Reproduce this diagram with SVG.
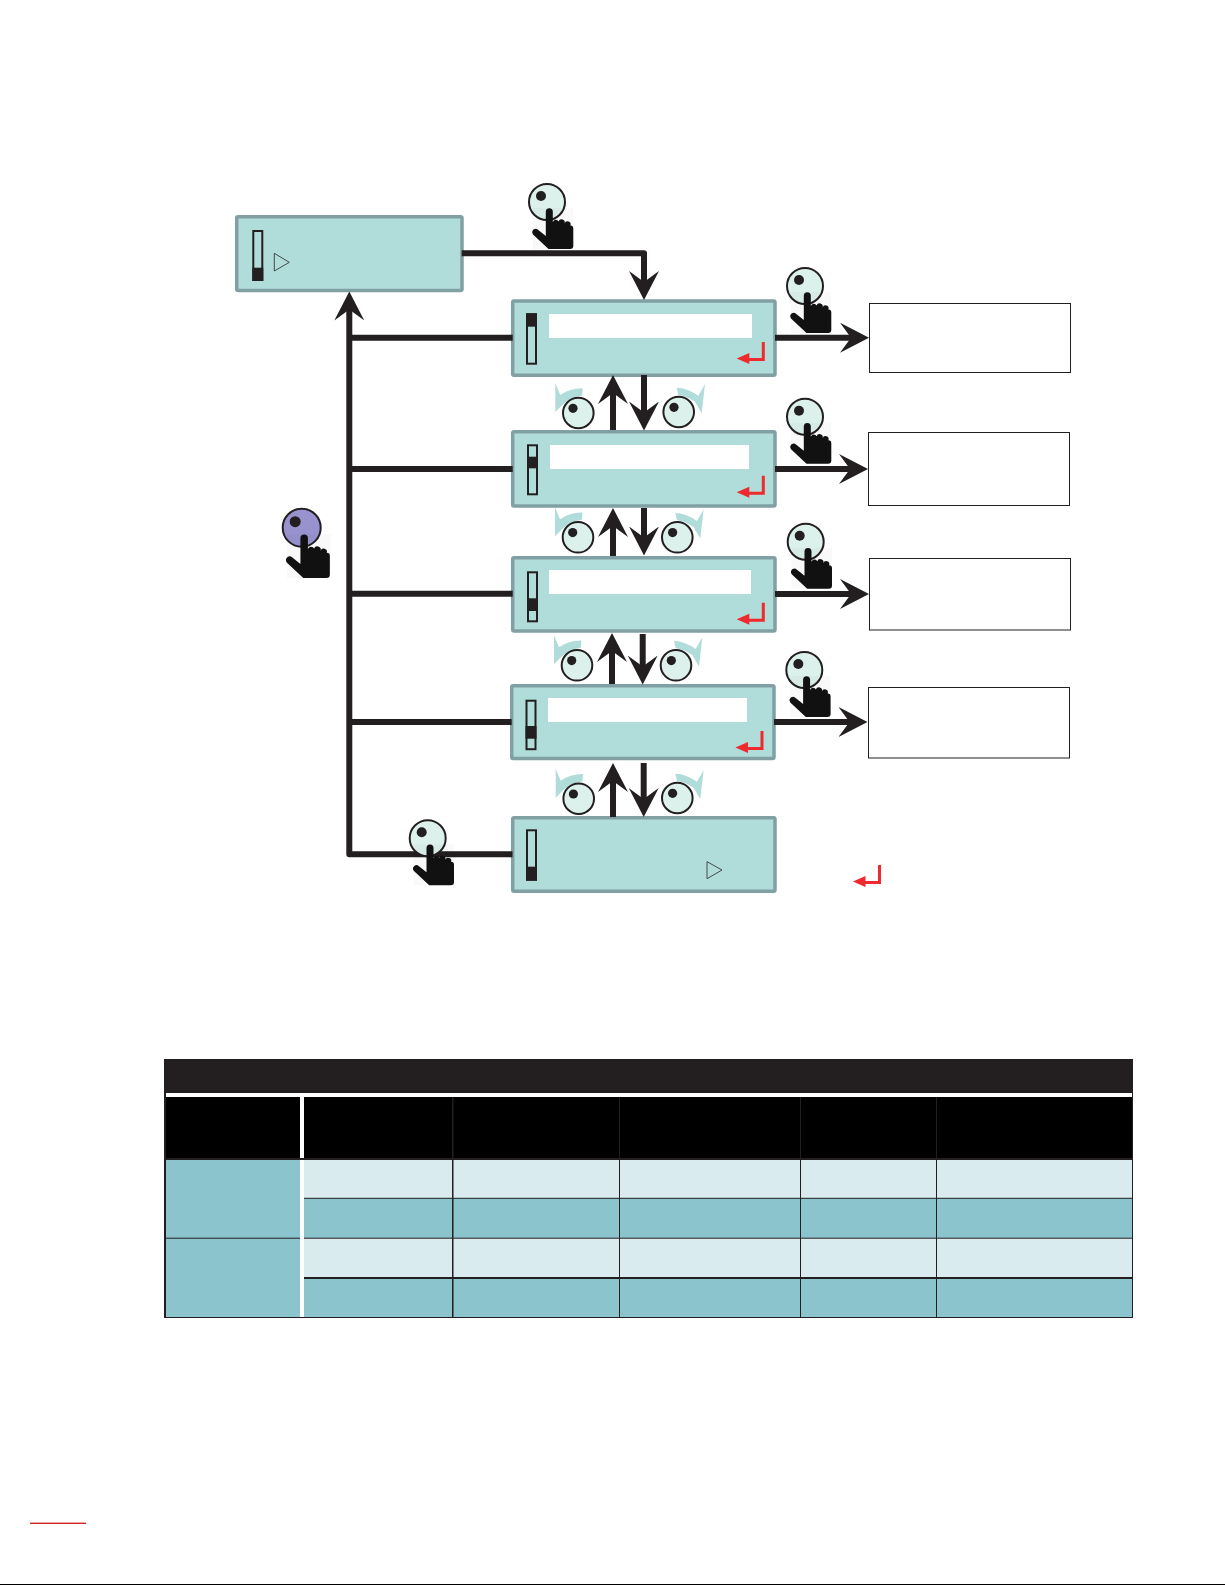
<svg xmlns="http://www.w3.org/2000/svg" xmlns:xlink="http://www.w3.org/1999/xlink" width="1225" height="1585" viewBox="0 0 1225 1585">
<style>
.box{fill:#b0dcd9;stroke:#80a0a4;stroke-width:3.5}
.bar{fill:#fff}
.sb{fill:#b0dcd9;stroke:#231f20;stroke-width:2}
.sf{fill:#231f20}
.tri{fill:none;stroke:#3a3a3a;stroke-width:.9}
.ret{fill:none;stroke:#ee2a2e;stroke-width:3}
.reth{fill:#ee2a2e}
.out{fill:#fff;stroke:#231f20;stroke-width:1}
.con{fill:none;stroke:#231f20;stroke-width:6;stroke-linejoin:round}
.arr{marker-end:url(#head)}
.knob{fill:#dcf1ec;stroke:#231f20;stroke-width:2}
.dot{fill:#231f20}
.curl{fill:#b0dcd9}
.hand{fill:#111}
.lt{fill:#d9ebef}
.dk{fill:#8bc4cd}
.ln{fill:#231f20}
</style>
<defs>
<marker id="head" markerUnits="userSpaceOnUse" markerWidth="30" markerHeight="30" refX="15" refY="15" orient="auto" viewBox="0 0 30 30">
<path d="M0,0 L29,15 L0,30 L11,15 Z" fill="#231f20"/>
</marker>
<path id="hand-shape" class="hand" d="M-1.2,9.8 A3.5,3.5 0 0 1 5.8,9.8 V20 A3.1,3.1 0 0 1 11.6,19.5 A3.1,3.1 0 0 1 17.6,21.5 A3,3 0 0 1 23.4,23.5 Q26.3,23.5 26.3,26.5 V44 Q26.3,47 23,47 H1.5 L-14,32.5 Q-15.8,29.8 -13.5,27.6 Q-11,25.8 -9,27.7 L-1.2,34 Z"/>
<g id="press">
<circle class="knob" r="18"/>
<circle class="dot" cx="-6" cy="-6" r="5"/>
<rect x="-14.3" y="6" width="40.6" height="41" fill="#000" opacity=".025"/>
<use xlink:href="#hand-shape" href="#hand-shape"/>
</g>
<g id="press-purple">
<circle class="knob" style="fill:#9893cf" r="19"/>
<circle class="dot" cx="-6.5" cy="-6" r="5.5"/>
<rect x="-15" y="6.5" width="44" height="44" fill="#000" opacity=".025"/>
<use xlink:href="#hand-shape" href="#hand-shape" transform="scale(1.07)"/>
</g>
<g id="dial-l">
<path class="curl" d="M-23,-30 L-18,-18 Q-8,-25 4.5,-24.7 L3.7,-17.3 Q-6,-17 -15,-9 L-23,-1 Z"/>
<circle class="knob" r="15.3"/>
<circle class="dot" cx="-5.3" cy="-4.7" r="4.6"/>
</g>
<g id="dial-r">
<path class="curl" d="M26.3,-28 L19.7,-16.3 Q9,-24 -2,-24.3 L-0.3,-17 Q8,-16 16.3,-10.3 L23,1.3 Z"/>
<circle class="knob" r="15.3"/>
<circle class="dot" cx="-4.7" cy="-4.7" r="4.6"/>
</g>
<g id="ret">
<path class="ret" d="M0,0 V17.5 H-18"/>
<path class="reth" d="M-26.6,16.5 L-14,11 V22 Z"/>
</g>
</defs>
<rect width="1225" height="1585" fill="#fff"/>

<g id="node-0">
<rect class="box" x="236.7" y="216.7" width="225.3" height="73.8" rx="1.5"/>
<rect class="sb" x="253.3" y="231" width="9" height="49"/>
<rect class="sf" x="252.3" y="267.7" width="11" height="13.3"/>
<path class="tri" d="M274.3,253.3 L289.3,262.3 L274.3,271 Z"/>
</g>
<g id="node-1">
<rect class="box" x="512.7" y="301" width="262.3" height="74.3" rx="1.5"/>
<rect class="bar" x="549" y="314" width="203" height="24"/>
<rect class="sb" x="527" y="314.3" width="9" height="49.4"/>
<rect class="sf" x="526" y="313.3" width="11" height="13.4"/>
<use xlink:href="#ret" href="#ret" x="763.3" y="342"/>
</g>
<g id="node-2">
<rect class="box" x="512.7" y="431.7" width="262.3" height="74.3" rx="1.5"/>
<rect class="bar" x="550" y="445" width="199" height="24"/>
<rect class="sb" x="528" y="445.3" width="9" height="49"/>
<rect class="sf" x="527" y="456.7" width="11" height="11.6"/>
<use xlink:href="#ret" href="#ret" x="763.3" y="475.7"/>
</g>
<g id="node-3">
<rect class="box" x="512.7" y="557.7" width="262.3" height="73.3" rx="1.5"/>
<rect class="bar" x="549" y="570" width="202" height="24"/>
<rect class="sb" x="528" y="572.3" width="9" height="49"/>
<rect class="sf" x="527" y="598.3" width="11" height="12.7"/>
<use xlink:href="#ret" href="#ret" x="763.3" y="602.7"/>
</g>
<g id="node-4">
<rect class="box" x="511.7" y="685.7" width="262.3" height="72.9" rx="1.5"/>
<rect class="bar" x="548" y="698" width="199" height="24"/>
<rect class="sb" x="526.5" y="700.7" width="9" height="48.5"/>
<rect class="sf" x="525.5" y="726" width="11" height="12.7"/>
<use xlink:href="#ret" href="#ret" x="762" y="731"/>
</g>
<g id="node-5">
<rect class="box" x="512.7" y="817.7" width="262.3" height="73.6" rx="1.5"/>
<rect class="sb" x="527" y="830.3" width="9" height="49.4"/>
<rect class="sf" x="526" y="866.7" width="11" height="14"/>
<path class="tri" d="M707,861.7 L722,870 L707,878.7 Z"/>
</g>
<g id="legend-return"><use xlink:href="#ret" href="#ret" x="879.5" y="865"/></g>

<g id="result-1"><rect class="out" x="869.5" y="303.5" width="201" height="69"/></g>
<g id="result-2"><rect class="out" x="868.5" y="432.5" width="201" height="73"/></g>
<g id="result-3"><rect class="out" x="869.5" y="558.5" width="201" height="71.5"/></g>
<g id="result-4"><rect class="out" x="868.5" y="687.5" width="201" height="70.5"/></g>

<g id="connectors">
<path class="con arr" d="M461.7,253.3 H644 V286"/>
<path class="con arr" d="M512.5,854.3 H349.3 V305.5"/>
<path class="con" d="M349.3,337.7 H512.7"/>
<path class="con" d="M349.3,469 H512.7"/>
<path class="con" d="M349.3,593.7 H512.7"/>
<path class="con" d="M349.3,722 H511.7"/>
<path class="con arr" d="M775,337.7 H855"/>
<path class="con arr" d="M775,469 H854"/>
<path class="con arr" d="M775,594 H855"/>
<path class="con arr" d="M774,722 H853.5"/>
<path class="con arr" d="M613,430 V389"/>
<path class="con arr" d="M644,375 V416.5"/>
<path class="con arr" d="M613,556 V522"/>
<path class="con arr" d="M644,508 V541.5"/>
<path class="con arr" d="M612,684 V647"/>
<path class="con arr" d="M642.7,634 V670.5"/>
<path class="con arr" d="M613,817 V777"/>
<path class="con arr" d="M643.7,763 V803"/>
</g>

<g id="press-icons">
<use xlink:href="#press" href="#press" x="547" y="202"/>
<use xlink:href="#press" href="#press" x="805" y="286"/>
<use xlink:href="#press" href="#press" x="805" y="416.7"/>
<use xlink:href="#press" href="#press" x="805.7" y="541.7"/>
<use xlink:href="#press" href="#press" x="804.3" y="670"/>
<use xlink:href="#press" href="#press" x="427.7" y="838.3"/>
<use xlink:href="#press-purple" href="#press-purple" x="301.7" y="527.7"/>
</g>
<g id="dial-icons">
<use xlink:href="#dial-l" href="#dial-l" x="578.3" y="413"/>
<use xlink:href="#dial-r" href="#dial-r" x="678.7" y="412"/>
<use xlink:href="#dial-l" href="#dial-l" x="578" y="537.3"/>
<use xlink:href="#dial-r" href="#dial-r" x="677.3" y="537.3"/>
<use xlink:href="#dial-l" href="#dial-l" x="577" y="665.3"/>
<use xlink:href="#dial-r" href="#dial-r" x="676" y="665.3"/>
<use xlink:href="#dial-l" href="#dial-l" x="578.7" y="798.7"/>
<use xlink:href="#dial-r" href="#dial-r" x="677.3" y="798"/>
</g>

<g id="table">
<rect x="164" y="1059" width="969" height="34" fill="#231f20"/>
<rect x="164" y="1093" width="2" height="225" fill="#231f20"/>
<rect x="1132" y="1093" width="1" height="225" fill="#231f20"/>
<rect x="166" y="1097" width="966" height="61" fill="#000"/>
<rect class="dk" x="166" y="1159" width="134" height="158"/>
<rect class="lt" x="304" y="1159" width="828" height="39"/>
<rect class="dk" x="304" y="1198" width="828" height="40"/>
<rect class="lt" x="304" y="1238" width="828" height="40"/>
<rect class="dk" x="304" y="1278" width="828" height="39"/>
<rect x="300" y="1097" width="4" height="220" fill="#fff"/>
<rect class="ln" x="164" y="1158" width="969" height="2"/>
<rect class="ln" x="304" y="1197.8" width="829" height="1"/>
<rect class="ln" x="164" y="1237.7" width="136" height="1"/>
<rect class="ln" x="304" y="1237.7" width="829" height="1"/>
<rect class="ln" x="304" y="1277" width="829" height="2"/>
<rect class="ln" x="164" y="1317" width="969" height="1"/>
<rect class="ln" x="452" y="1097" width="1.5" height="220"/>
<rect class="ln" x="619" y="1097" width="1" height="220"/>
<rect class="ln" x="800" y="1097" width="1" height="220"/>
<rect class="ln" x="936" y="1097" width="1" height="220"/>
</g>

<rect x="30" y="1522.6" width="56" height="1.4" fill="#d2232a"/>
<rect x="0" y="1584" width="1225" height="1" fill="#000"/>
</svg>
